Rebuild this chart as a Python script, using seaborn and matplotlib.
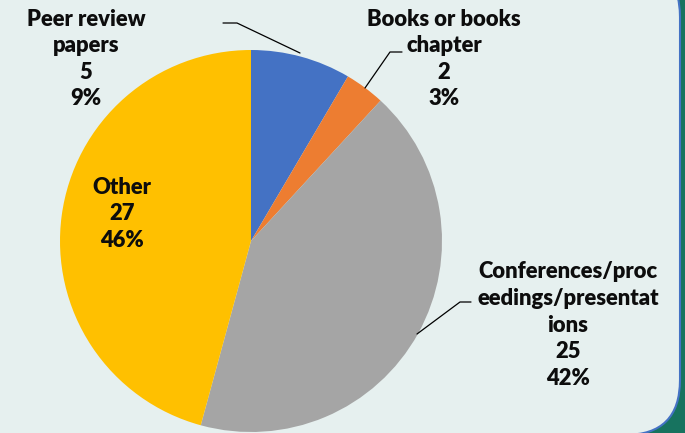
import matplotlib
matplotlib.use("Agg")
import matplotlib.pyplot as plt
from matplotlib.patches import FancyBboxPatch
import seaborn as sns

# data
categories = ["Peer review papers", "Books or books chapter",
              "Conferences/proceedings/presentations", "Other"]
label_text = ["Peer review\npapers", "Books or books\nchapter",
              "Conferences/proc\needings/presentat\nions", "Other"]
counts = [5, 2, 25, 27]
percents = [9, 3, 42, 46]
colors = ["#4472C4", "#ED7D31", "#A5A5A5", "#FFC000"]

sns.set_style("white")
plt.rcParams["font.family"] = ["Lato", "DejaVu Sans"]

W, H = 685, 433
fig = plt.figure(figsize=(6.85, 4.33), dpi=100)
fig.patch.set_facecolor("#17735F")
ax = fig.add_axes([0, 0, 1, 1])

# rounded light panel
panel = FancyBboxPatch((-60, -2), 740, H + 40,
                       boxstyle="round,pad=0,rounding_size=55",
                       facecolor="#E6F0EF", edgecolor="#4472C4", linewidth=1.5,
                       zorder=0)
ax.add_patch(panel)

pal = sns.color_palette(colors)
ax.pie(counts, colors=pal, startangle=90, counterclock=False,
       center=(251, H - 241), radius=191, frame=True,
       wedgeprops={"linewidth": 0})
ax.set_xlim(0, W)
ax.set_ylim(0, H)
ax.set_aspect("equal")
ax.axis("off")

# label centres and leader lines, in pixel coordinates (y from top)
label_pos = [(86, 59), (444, 59), (568, 325), (122, 214)]
leaders = [[(223, 23), (237, 23), (300, 53)],
           [(402, 52), (390, 52), (365, 88)],
           [(471, 302), (460, 302), (417, 334)],
           None]

for txt, n, pct, (px, py), lead in zip(label_text, counts, percents,
                                       label_pos, leaders):
    ax.text(px, H - py, f"{txt}\n{n}\n{pct}%", ha="center", va="center",
            multialignment="center", fontsize=15.8, fontweight="heavy",
            color="#0D0D0D", linespacing=1.33)
    if lead:
        xs = [p[0] for p in lead]
        ys = [H - p[1] for p in lead]
        ax.plot(xs, ys, color="black", linewidth=0.9)

plt.savefig("out.png", dpi=100, facecolor=fig.get_facecolor())
